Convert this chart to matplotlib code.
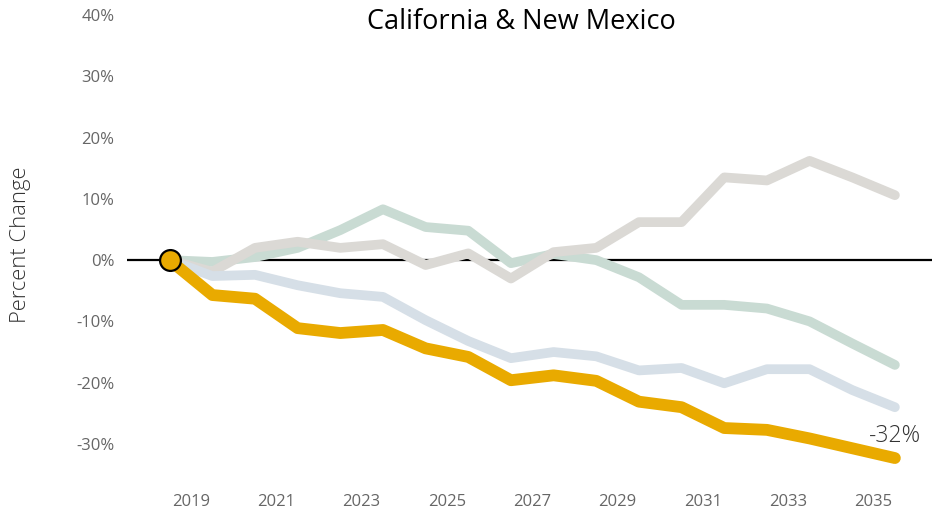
import matplotlib
matplotlib.use("Agg")
from matplotlib import pyplot as plt

plt.rcParams['font.family'] = ['Open Sans', 'DejaVu Sans']

# ------------------------------------------------
# data (percent change vs. first year)

years = list(range(2018, 2036))

gold = [0, -5.7, -6.3, -11.1, -11.9, -11.4, -14.4, -15.8, -19.6, -18.8,
        -19.7, -23.1, -24.0, -27.4, -27.7, -29.1, -30.7, -32.3]
blue = [0, -2.6, -2.4, -4.1, -5.4, -6.0, -9.8, -13.2, -16.0, -15.0,
        -15.7, -18.0, -17.6, -20.1, -17.8, -17.8, -21.2, -24.0]
green = [0, -0.3, 0.5, 2.0, 4.9, 8.3, 5.4, 4.8, -0.5, 1.0,
         0.0, -2.8, -7.3, -7.3, -7.9, -10.0, -13.6, -17.1]
grey = [0, -1.9, 2.0, 3.0, 2.0, 2.6, -0.8, 1.1, -3.0, 1.3,
        2.0, 6.2, 6.2, 13.5, 13.0, 16.2, 13.5, 10.6]

tick_years = list(range(2019, 2036, 2))
y_ticks = [-30, -20, -10, 0, 10, 20, 30, 40]

# ------------------------------------------------

fig = plt.figure(figsize=(9.32, 5.14), dpi=100)
ax = fig.add_axes([127 / 932, 1 - 474.6 / 514, 1 - 127 / 932, (474.6 - 15) / 514])

ax.axhline(0, color='black', lw=1.6, zorder=1)

ax.plot(years, green, color='#c9dbd3', lw=7, solid_capstyle='round',
        solid_joinstyle='round', zorder=2)
ax.plot(years, grey, color='#dbd9d5', lw=7, solid_capstyle='round',
        solid_joinstyle='round', zorder=3)
ax.plot(years, blue, color='#d6dfe7', lw=7, solid_capstyle='round',
        solid_joinstyle='round', zorder=4)
ax.plot(years, gold, color='#e9aa00', lw=8.5, solid_capstyle='round',
        solid_joinstyle='round', zorder=5)
ax.plot(years[0], gold[0], 'o', ms=15, mfc='#e9aa00', mec='black',
        mew=1.6, zorder=6)

ax.annotate('{:.0f}%'.format(gold[-1]), (years[-1], gold[-1]),
            xytext=(0, 16), textcoords='offset points', ha='center',
            va='center', fontsize=16.5, color='#333333', fontweight='light')

ax.set_xlim(2017, 2035.87)
ax.set_ylim(-35, 40)
ax.set_xticks([y - 0.5 for y in tick_years])
ax.set_xticklabels([str(y) for y in tick_years])
ax.set_yticks(y_ticks)
ax.set_yticklabels(['{}%'.format(v) for v in y_ticks])
ax.tick_params(length=0, labelsize=12, colors='#666666')
ax.tick_params(axis='x', pad=14)
ax.tick_params(axis='y', pad=9)
for s in ax.spines.values():
    s.set_visible(False)

fig.text(21 / 932, 1 - 245 / 514, 'Percent Change', rotation=90,
         ha='center', va='center', fontsize=15.8, color='#333333',
         fontweight='light')
fig.text(521 / 932, 1 - 22 / 514, 'California & New Mexico', ha='center',
         va='center', fontsize=19.5, color='black')

# Saveplot
fig.savefig('out.png', dpi=100)
